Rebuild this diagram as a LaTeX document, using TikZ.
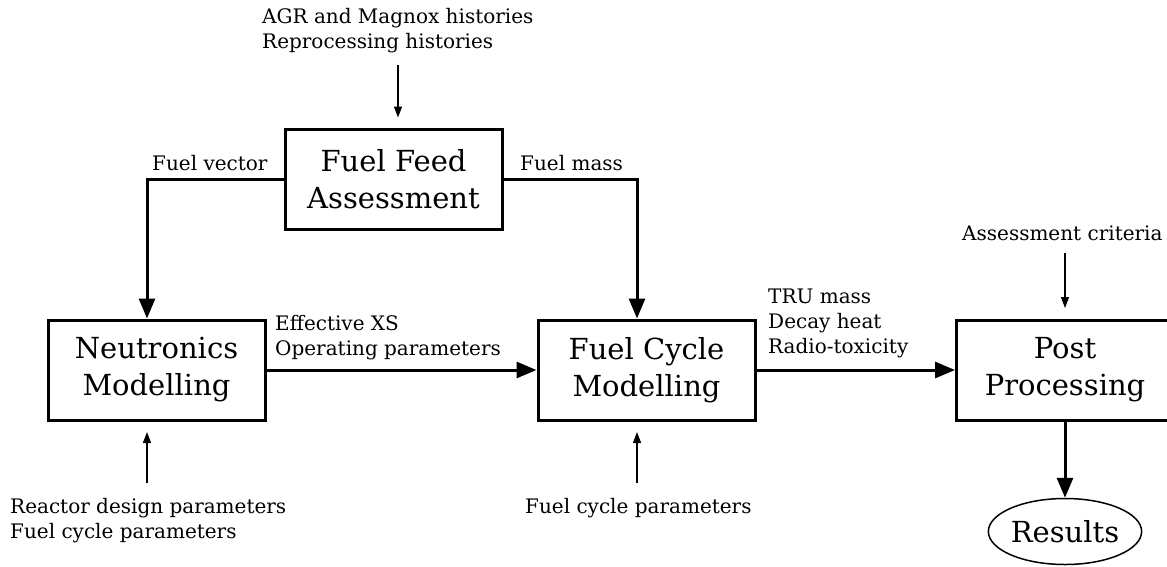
\documentclass[tikz,border=0pt]{standalone}
\usepackage{fontspec}
\setmainfont{DejaVu Serif}
\usetikzlibrary{arrows.meta,shapes.geometric,calc}
\begin{document}
\begin{tikzpicture}[x=1pt,y=-1pt,
  box/.style={draw,line width=3pt,minimum width=217pt,minimum height=100pt,align=center,font=\fontsize{29}{37}\selectfont,inner sep=0pt},
  lbl/.style={anchor=north west,inner sep=0pt,align=left,font=\fontsize{20}{25}\selectfont,execute at begin node={\rule{0pt}{16.5pt}}},
  flow/.style={line width=3pt,-{Triangle[length=20pt,width=16pt]}},
  feed/.style={line width=1.3pt,-{Triangle[length=11pt,width=8pt]},shorten >=10.5pt},
  ]
\useasboundingbox (0,0) rectangle (1167,566);
\clip (0,0) rectangle (1167,566);

% boxes
\node[box] (ff) at (393.5,179.5) {Fuel Feed\\Assessment};
\node[box] (nm) at (156.5,370) {Neutronics\\Modelling};
\node[box] (fc) at (646.5,370) {Fuel Cycle\\Modelling};
\node[box] (pp) at (1065,370) {Post\\Processing};
\node[draw,ellipse,line width=1.5pt,minimum width=142pt,minimum height=66pt,inner sep=0pt,font=\fontsize{29}{37}\selectfont] (res) at (1065,531.5) {Results};

% labels
\node[lbl] (agr) at (262,8.5) {AGR and Magnox histories\\Reprocessing histories};
\node[lbl] (fv) at (152,153.5) {Fuel vector};
\node[lbl] (fm) at (520,153.5) {Fuel mass};
\node[lbl] (eff) at (275,315.5) {Effective XS\\Operating parameters};
\node[lbl] (tru) at (768,288.5) {TRU mass\\Decay heat\\Radio-toxicity};
\node[lbl] (ac) at (962,223.5) {Assessment criteria};
\node[lbl] (rd) at (10,498.5) {Reactor design parameters\\Fuel cycle parameters};
\node[lbl] (fcp) at (525,496.5) {Fuel cycle parameters};

% input points
\coordinate (agrin) at (398,65);
\coordinate (acin) at (1065,253);
\coordinate (nmin) at (147,483);
\coordinate (fcin) at (637,483);

% main flow
\draw[flow] (ff.west) -| ([xshift=-9.5pt]nm.north);
\draw[flow] (ff.east) -| ([xshift=-9.5pt]fc.north);
\draw[flow] (nm.east) -- (fc.west);
\draw[flow] (fc.east) -- (pp.west);
\draw[flow] (pp.south) -- (res.north);

% inputs
\draw[feed] (agrin) -- (agrin |- ff.north);
\draw[feed] (acin) -- (pp.north);
\draw[feed] (nmin) -- ([xshift=-9.5pt]nm.south);
\draw[feed] (fcin) -- ([xshift=-9.5pt]fc.south);
\end{tikzpicture}
\end{document}
